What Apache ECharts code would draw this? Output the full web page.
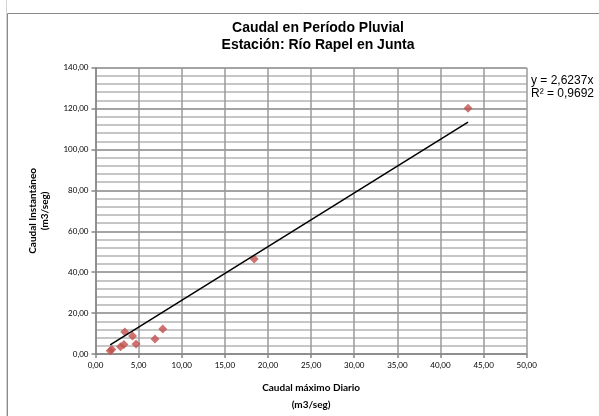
<!DOCTYPE html>
<html>
<head>
<meta charset="utf-8">
<script src="https://cdn.jsdelivr.net/npm/echarts@6/dist/echarts.min.js"></script>
<style>
  html, body { margin: 0; padding: 0; background: #ffffff; }
  #chart { width: 599px; height: 416px; }
</style>
</head>
<body>
<div id="chart"></div>
<script>
// Caudal máximo diario vs. caudal instantáneo, período pluvial
var caudalDiario = [1.7, 1.9, 2.9, 3.3, 3.4, 4.3, 4.7, 6.9, 7.8, 18.4, 43.2];
var caudalInstantaneo = [1.6, 2.2, 3.5, 4.6, 10.8, 8.8, 4.9, 7.3, 12.2, 46.5, 120.2];

// Línea de tendencia lineal
var pendiente = 2.6237;
var r2 = 0.9692;

var titulo = ['Caudal en Período Pluvial', 'Estación: Río Rapel en Junta'];
var nombreEjeX = ['Caudal máximo Diario', '(m3/seg)'];
var nombreEjeY = ['Caudal Instantáneo', '(m3/seg)'];

var puntos = caudalDiario.map(function (x, i) { return [x, caudalInstantaneo[i]]; });
var xMin = Math.min.apply(null, caudalDiario);
var xMax = Math.max.apply(null, caudalDiario);
var tendencia = [[xMin, pendiente * xMin], [xMax, pendiente * xMax]];

function fmt(v) { return v.toFixed(2).replace('.', ','); }
function coma(v) { return String(v).replace('.', ','); }

var chart = echarts.init(document.getElementById('chart'), null, { renderer: 'canvas' });
chart.setOption({
  backgroundColor: '#ffffff',
  animation: false,
  title: {
    text: titulo.join('\n'),
    left: 313,
    textAlign: 'center',
    top: 15,
    textStyle: {
      fontFamily: 'Liberation Sans',
      fontSize: 14,
      fontWeight: 'bold',
      color: '#000000',
      lineHeight: 17
    }
  },
  grid: { left: 95.5, right: 72.3, top: 67.7, bottom: 62, containLabel: false, outerBoundsMode: 'none' },
  xAxis: {
    type: 'value',
    min: 0, max: 50, interval: 5,
    name: nombreEjeX.join('\n'),
    nameLocation: 'middle',
    nameGap: 26,
    nameTextStyle: { fontFamily: 'Lato', fontSize: 10, fontWeight: 'bold', color: '#000', lineHeight: 16.5, verticalAlign: 'top' },
    axisLine: { lineStyle: { color: '#868686', width: 1.5 } },
    axisTick: { show: true, length: 4, lineStyle: { color: '#868686', width: 1.5 } },
    axisLabel: { formatter: fmt, fontFamily: 'Lato', fontSize: 8, color: '#000', margin: 7 },
    splitLine: { show: true, lineStyle: { color: '#9a9a9a', width: 1.5 } }
  },
  yAxis: {
    type: 'value',
    min: 0, max: 140, interval: 20,
    name: nombreEjeY.join('\n'),
    nameLocation: 'middle',
    nameGap: 45,
    nameRotate: 90,
    nameTextStyle: { fontFamily: 'Lato', fontSize: 10, fontWeight: 'bold', color: '#000', lineHeight: 12 },
    axisLine: { show: true, lineStyle: { color: '#868686', width: 1.5 } },
    axisTick: { show: true, length: 4, lineStyle: { color: '#868686', width: 1.5 } },
    axisLabel: { formatter: fmt, fontFamily: 'Lato', fontSize: 8, color: '#000', margin: 7 },
    splitLine: { show: true, lineStyle: { color: '#868686', width: 1.5 } },
    minorTick: { show: false, splitNumber: 5 },
    minorSplitLine: { show: true, lineStyle: { color: '#b4b4b4', width: 1.5 } }
  },
  series: [
    {
      type: 'scatter',
      data: puntos,
      symbol: 'diamond',
      symbolSize: 9,
      itemStyle: { color: '#c0504d' },
      z: 3
    },
    {
      type: 'line',
      data: tendencia,
      symbol: 'none',
      lineStyle: { color: '#000000', width: 1.5 },
      z: 4
    }
  ],
  graphic: [
    { type: 'line', shape: { x1: 6.5, y1: 0, x2: 6.5, y2: 416 }, style: { stroke: '#d4d4d4', lineWidth: 1 } },
    { type: 'polyline', shape: { points: [[7.5, 416], [7.5, 13.5], [599, 13.5]] }, style: { stroke: '#8a8a8a', lineWidth: 1, fill: null } },
    {
      type: 'text', left: 531, top: 74,
      style: {
        text: 'y = ' + coma(pendiente) + 'x\nR² = ' + coma(r2),
        font: '12px "Liberation Sans"', fill: '#000', lineHeight: 13
      }
    }
  ]
});
</script>
</body>
</html>
